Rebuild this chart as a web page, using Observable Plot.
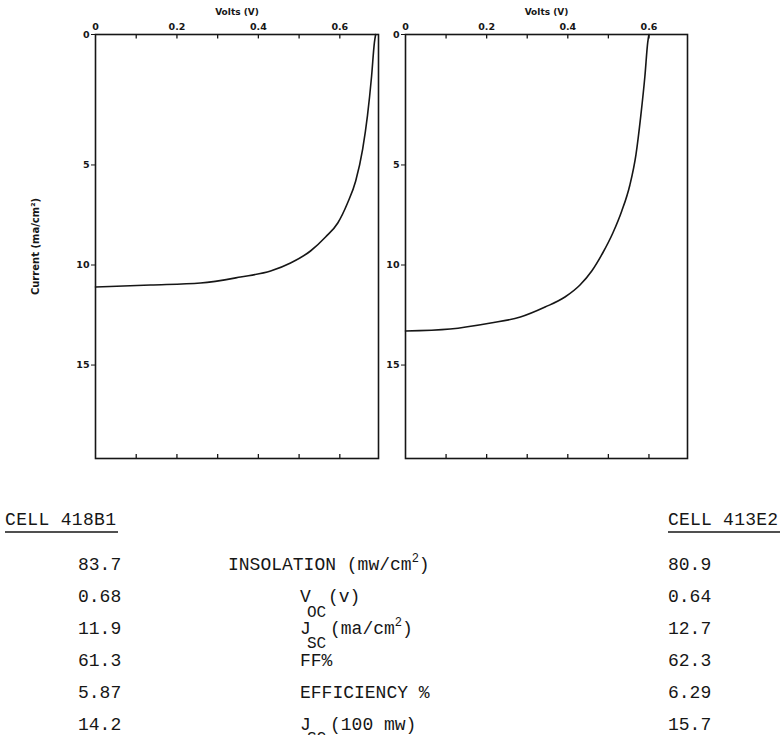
<!DOCTYPE html>
<html>
<head>
<meta charset="utf-8">
<script src="https://cdn.jsdelivr.net/npm/d3@7"></script>
<script src="https://cdn.jsdelivr.net/npm/@observablehq/plot@0.6"></script>
<style>
  body { margin: 0; background: #fff; }
  #wrap { position: relative; width: 783px; height: 735px; overflow: hidden; background: #fff; }
  .panel { position: absolute; top: 0; }
  #table { position: absolute; left: 0; top: 490px; }
</style>
</head>
<body>
<div id="wrap"></div>
<script>
// Light I–V curves of two cells: voltage (V) vs current density (mA/cm²)
const volts418B1   = [0, 0.135, 0.258, 0.356, 0.43, 0.479, 0.528, 0.565, 0.595, 0.619, 0.639, 0.656, 0.668, 0.678, 0.685, 0.688];
const current418B1 = [11.1, 11.0, 10.9, 10.6, 10.3, 9.9, 9.3, 8.6, 7.9, 6.9, 5.8, 4.4, 3.1, 1.6, 0.3, 0];
const volts413E2   = [0, 0.11, 0.21, 0.283, 0.344, 0.393, 0.43, 0.459, 0.486, 0.511, 0.533, 0.553, 0.568, 0.58, 0.59, 0.597, 0.6];
const current413E2 = [13.3, 13.2, 12.9, 12.6, 12.1, 11.6, 11.0, 10.3, 9.4, 8.4, 7.3, 6.0, 4.6, 3.1, 1.6, 0.3, 0];

// Axis ticks
const voltLabels   = [0, 0.2, 0.4, 0.6];
const voltMinor    = [0.1, 0.2, 0.3, 0.4, 0.5, 0.6];
const currentTicks = [0, 5, 10, 15];

// Current axis: the first 5 mA/cm² span is drawn taller than the rest,
// so the scale is piecewise (equal pixel steps between these breakpoints).
const currentBreaks = [0, 1.25, 2.5, 3.75, 5, 6.63, 8.26, 9.89, 11.52, 13.15, 14.78, 16.41, 18.04, 19.67];

// Cell summary table
const cellNames   = ["CELL 418B1", "CELL 413E2"];
const values418B1 = ["83.7", "0.68", "11.9", "61.3", "5.87", "14.2"];
const values413E2 = ["80.9", "0.64", "12.7", "62.3", "6.29", "15.7"];

const ink = "#161616";
const yBottom = currentBreaks[currentBreaks.length - 1];

function panel(volts, current, {width, marginLeft, marginRight, yLabel}) {
  const data = volts.map((v, i) => ({v, j: current[i]}));
  const marks = [
    Plot.frame({stroke: ink, strokeWidth: 1.6}),
    // tick labels along the top
    Plot.axisX({anchor: "top", ticks: voltLabels, tickSize: 0, tickPadding: 5, label: null,
      tickFormat: d => d === 0 ? "0" : d.toFixed(1), fontWeight: "bold", fontSize: 9.5}),
    // inward ticks on top and bottom edges
    Plot.ruleX(voltMinor, {y1: 0, y2: 0.17, stroke: ink, strokeWidth: 1.3}),
    Plot.ruleX(voltMinor, {y1: yBottom, y2: yBottom - 0.2, stroke: ink, strokeWidth: 1.3}),
    Plot.axisY({anchor: "left", ticks: currentTicks, tickSize: 4, tickPadding: 2, label: null,
      fontWeight: "bold", fontSize: 9.5, stroke: ink}),
    Plot.line(data, {x: "v", y: "j", stroke: ink, strokeWidth: 1.6, curve: "monotone-x"}),
    Plot.text(["Volts (V)"], {frameAnchor: "top", dy: -26, fontSize: 9, fontWeight: "bold", fill: ink})
  ];
  if (yLabel) {
    marks.push(Plot.text([yLabel], {frameAnchor: "left", textAnchor: "middle", dx: -60, rotate: -90,
      fontSize: 10, fontWeight: "bold", fill: ink}));
  }
  return Plot.plot({
    width, height: 470,
    marginLeft, marginRight, marginTop: 34, marginBottom: 12,
    style: {background: "transparent", fontFamily: "DejaVu Sans", color: ink, overflow: "visible"},
    x: {type: "linear", domain: [0, 0.695]},
    y: {type: "linear", domain: currentBreaks, range: [34, 458]},
    marks
  });
}

const wrap = document.getElementById("wrap");

const leftPanel = panel(volts418B1, current418B1, {width: 390, marginLeft: 95, marginRight: 12, yLabel: "Current (ma/cm²)"});
leftPanel.classList.add("panel");
leftPanel.style.left = "0px";
wrap.appendChild(leftPanel);

const rightPanel = panel(volts413E2, current413E2, {width: 403, marginLeft: 25, marginRight: 96});
rightPanel.classList.add("panel");
rightPanel.style.left = "380px";
wrap.appendChild(rightPanel);

// Summary table, drawn as SVG text (page coordinates shifted by the table's top)
const tableTop = 490;
const svg = d3.select(wrap).append("svg")
  .attr("id", "table").attr("width", 783).attr("height", 245)
  .style("font-family", "'Liberation Mono', monospace").style("font-size", "18px").attr("fill", ink);

const g = svg.append("g").attr("transform", `translate(0,${-tableTop})`);

// column headers, underlined
[[5, 118], [668, 780]].forEach(([x0, x1], i) => {
  g.append("text").attr("x", x0).attr("y", 525).attr("textLength", x1 - x0 - 2).text(cellNames[i]);
  g.append("line").attr("x1", x0).attr("x2", x1).attr("y1", 532).attr("y2", 532)
    .attr("stroke", ink).attr("stroke-width", 1.3);
});

const baselines = [570, 602, 634, 666, 698, 730];
values418B1.forEach((v, i) => g.append("text").attr("x", 78).attr("y", baselines[i]).text(v));
values413E2.forEach((v, i) => g.append("text").attr("x", 668).attr("y", baselines[i]).text(v));

// row labels; the typed subscripts sit half a line down
const sub = (x, y, s) => g.append("text").attr("x", x).attr("y", y).style("font-size", "16px").text(s);

const ins = g.append("text").attr("x", 228).attr("y", baselines[0]);
ins.append("tspan").text("INSOLATION (mw/cm");
ins.append("tspan").attr("dy", -8).style("font-size", "12px").text("2");
ins.append("tspan").attr("dy", 8).text(")");

g.append("text").attr("x", 300).attr("y", baselines[1]).text("V");
g.append("text").attr("x", 328).attr("y", baselines[1]).text("(v)");
sub(307, 617, "OC");

g.append("text").attr("x", 300).attr("y", baselines[2]).text("J");
const jsc = g.append("text").attr("x", 330).attr("y", baselines[2]);
jsc.append("tspan").text("(ma/cm");
jsc.append("tspan").attr("dy", -8).style("font-size", "12px").text("2");
jsc.append("tspan").attr("dy", 8).text(")");
sub(307, 648, "SC");

g.append("text").attr("x", 300).attr("y", baselines[3]).text("FF%");
g.append("text").attr("x", 300).attr("y", baselines[4]).text("EFFICIENCY %");

g.append("text").attr("x", 300).attr("y", baselines[5]).text("J");
g.append("text").attr("x", 330).attr("y", baselines[5]).text("(100 mw)");
sub(307, 743, "SC");
</script>
</body>
</html>
